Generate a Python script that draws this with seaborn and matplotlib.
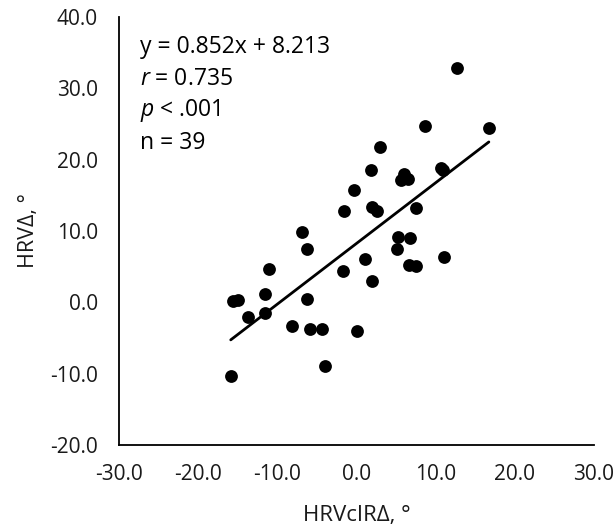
import matplotlib
matplotlib.use("Agg")
import matplotlib.pyplot as plt
import pandas as pd
import seaborn as sns
from matplotlib.ticker import FormatStrFormatter, MultipleLocator

# values
hrv_cir_delta = [
    12.75, 8.71, 16.74, 2.94, 1.8, 6.0, 5.6, 6.5, 10.73, 10.9,
    -0.3, -1.56, 2.02, 2.65, 7.49, 5.25, 6.73, 5.17, 1.05, -1.69,
    6.64, 7.49, 11.02, 1.97, 0.13, -6.87, -6.19, -11.04, -11.58, -15.58,
    -14.95, -6.24, -13.69, -11.49, -8.13, -5.81, -4.34, -3.91, -15.87,
]
hrv_delta = [
    32.8, 24.7, 24.4, 21.7, 18.55, 18.0, 17.2, 17.3, 18.8, 18.6,
    15.75, 12.8, 13.4, 12.8, 13.2, 9.1, 9.0, 7.5, 6.0, 4.4,
    5.2, 5.1, 6.4, 3.0, -4.1, 9.8, 7.4, 4.7, 1.1, 0.2,
    0.3, 0.4, -2.0, -1.5, -3.4, -3.8, -3.7, -8.9, -10.4,
]
stats_lines = [
    "y = 0.852x + 8.213",
    "$\\mathit{r}$ = 0.735",
    "$\\mathit{p}$ < .001",
    "n = 39",
]

sns.set_style("white")
plt.rcParams["font.family"] = ["Open Sans", "DejaVu Sans"]
plt.rcParams["mathtext.fontset"] = "custom"
plt.rcParams["mathtext.rm"] = "Open Sans"
plt.rcParams["mathtext.it"] = "Open Sans:italic"

df = pd.DataFrame({"x": hrv_cir_delta, "y": hrv_delta})

fig = plt.figure(figsize=(6.16, 5.29), dpi=100)
ax = fig.add_axes([0.193, 0.159, 0.771, 0.809])

sns.regplot(
    data=df, x="x", y="y", ax=ax, ci=None, truncate=True,
    scatter_kws={"s": 85, "color": "black", "linewidths": 0, "alpha": 1},
    line_kws={"color": "black", "linewidth": 2.0},
)

ax.set_xlim(-30, 30)
ax.set_ylim(-20, 40)
ax.xaxis.set_major_locator(MultipleLocator(10))
ax.yaxis.set_major_locator(MultipleLocator(10))
ax.xaxis.set_major_formatter(FormatStrFormatter("%.1f"))
ax.yaxis.set_major_formatter(FormatStrFormatter("%.1f"))
sns.despine(ax=ax)
for side in ("left", "bottom"):
    ax.spines[side].set_color("black")
    ax.spines[side].set_linewidth(1.3)
ax.tick_params(axis="both", direction="out", length=5, width=1.3,
               color="black", labelsize=15, labelcolor="#1a1a1a")
ax.tick_params(axis="x", pad=9)
ax.tick_params(axis="y", pad=10)

ax.set_xlabel("HRVcIRΔ, °", fontsize=16, color="#1a1a1a", labelpad=14)
ax.set_ylabel("HRVΔ, °", fontsize=15.5, color="#1a1a1a", labelpad=8)

for i, line in enumerate(stats_lines):
    ax.text(0.044, 0.930 - i * 0.0748, line, transform=ax.transAxes,
            ha="left", va="center", fontsize=16.5, color="black")

fig.savefig("out.png", dpi=100)
